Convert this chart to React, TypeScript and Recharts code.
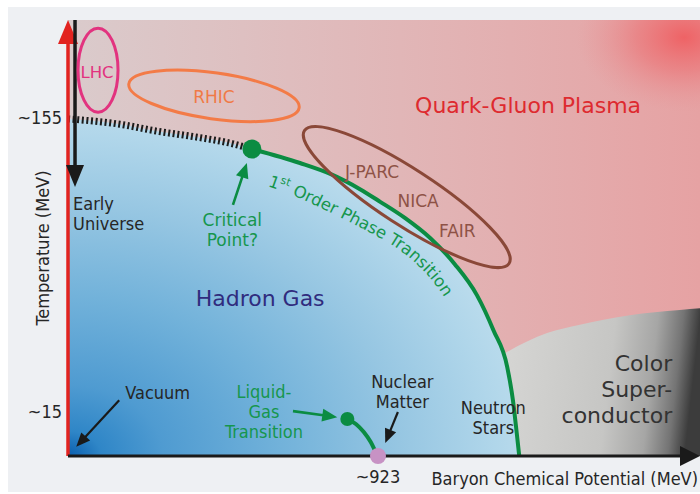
import React from 'react';
import { ComposedChart, Area, Line, Scatter, XAxis, YAxis, Label } from 'recharts';

// schematic phase diagram: u = baryon chemical potential, v = temperature (both 0..100)
const qgpRegion = [
  { u: 0, v: 100 },
  { u: 100, v: 100 },
];

const crossover = [
  { u: 0, v: 77.3 },
  { u: 1.9, v: 77.1 },
  { u: 8.2, v: 76.1 },
  { u: 14.1, v: 74.5 },
  { u: 20.1, v: 73.2 },
  { u: 26.1, v: 71.6 },
  { u: 29.1, v: 70.4 },
];

const firstOrder = [
  { u: 29.1, v: 70.4 },
  { u: 36.7, v: 67.2 },
  { u: 41.5, v: 64.7 },
  { u: 46.2, v: 61.2 },
  { u: 49.4, v: 58.3 },
  { u: 53.3, v: 54.6 },
  { u: 57.3, v: 50.0 },
  { u: 61.2, v: 44.0 },
  { u: 64.7, v: 36.9 },
  { u: 67.3, v: 28.9 },
  { u: 69.5, v: 20.4 },
  { u: 70.4, v: 12.8 },
  { u: 71.0, v: 5.3 },
  { u: 71.4, v: 0 },
];

const superconductor = [
  { u: 66.8, v: 21.6 },
  { u: 69.5, v: 23.9 },
  { u: 75.8, v: 28.2 },
  { u: 81.0, v: 30.1 },
  { u: 88.9, v: 32.3 },
  { u: 96.8, v: 33.5 },
  { u: 100, v: 33.9 },
];

const liquidGas = [
  { u: 44.2, v: 8.5 },
  { u: 45.6, v: 7.3 },
  { u: 46.8, v: 5.5 },
  { u: 47.9, v: 3.2 },
  { u: 48.7, v: 0.9 },
  { u: 49.05, v: 0 },
];

const hadronGas = [...crossover.slice(0, -1), ...firstOrder];

const criticalPoint = [{ u: 29.1, v: 70.4 }];
const liquidGasEnd = [{ u: 44.2, v: 8.5 }];
const nuclearMatter = [{ u: 49.05, v: 0 }];

// baseline for the curved "1st Order Phase Transition" text
const transitionGuide = [
  { u: 31.6, v: 61.9 },
  { u: 37.0, v: 58.9 },
  { u: 44.9, v: 53.4 },
  { u: 52.2, v: 47.5 },
  { u: 57.0, v: 41.3 },
  { u: 60.1, v: 35.1 },
  { u: 62.3, v: 28.9 },
];

const accelerators = [
  { name: 'LHC', u: 4.75, v: 88.5 },
  { name: 'RHIC', u: 23.1, v: 82.6 },
  { name: 'FAIR', u: 53.6, v: 59.4 },
];

const qgpLabel = [{ text: 'Quark-Gluon Plasma', u: 72.8, v: 80.5 }];
const hadronLabel = [{ text: 'Hadron Gas', u: 30.4, v: 36.2 }];
const superconductorLabel = [{ text: 'Color\nSuper-\nconductor', u: 95.6, v: 15.4 }];
const lhcLabel = [{ text: 'LHC', u: 4.6, v: 88.1 }];
const rhicLabel = [{ text: 'RHIC', u: 23.1, v: 82.3 }];
const fairLabels = [
  { text: 'J-PARC', u: 48.1, v: 65.1 },
  { text: 'NICA', u: 55.4, v: 58.5 },
  { text: 'FAIR', u: 61.6, v: 51.6 },
];
const blackNotes = [
  { text: 'Vacuum', u: 14.2, v: 14.5 },
  { text: 'Nuclear\nMatter', u: 52.9, v: 14.7 },
  { text: 'Neutron\nStars', u: 67.3, v: 8.9 },
];
const earlyUniverse = [{ text: 'Early\nUniverse', u: 0.8, v: 55.7 }];
const criticalLabel = [{ text: 'Critical\nPoint?', u: 26.0, v: 51.8 }];
const liquidGasLabel = [{ text: 'Liquid-\nGas\nTransition', u: 31.0, v: 10.1 }];

const tempAxis = [
  { u: 0, v: 0 },
  { u: 0, v: 100 },
];
const muAxis = [
  { u: 0, v: 0 },
  { u: 100, v: 0 },
];
const earlyArrow = [
  { u: 1.11, v: 100 },
  { u: 1.11, v: 61.7 },
];
const vacuumArrow = [
  { u: 8.1, v: 12.8 },
  { u: 1.3, v: 2.1 },
];
const criticalArrow = [
  { u: 26.1, v: 57.6 },
  { u: 28.3, v: 67.2 },
];
const liquidGasArrow = [
  { u: 35.6, v: 10.3 },
  { u: 42.6, v: 8.9 },
];
const nuclearArrow = [
  { u: 52.2, v: 10.1 },
  { u: 50.2, v: 3.0 },
];

const yTicks = [77.5, 10.1];
const yTickLabels = ['~155', '~15'];
const xTicks = [49.05];
const xTickLabels = ['~923'];

const GREEN = '#0b8c42';
const GREEN_TEXT = '#16964d';
const INK = '#262626';
const COND = "'DejaVu Sans Condensed', 'DejaVu Sans', sans-serif";

const ellipseStyle: Record<string, { rx: number; ry: number; rot: number; color: string }> = {
  LHC: { rx: 20, ry: 42, rot: 0, color: '#e2337f' },
  RHIC: { rx: 86, ry: 23, rot: 8, color: '#f37b47' },
  FAIR: { rx: 122, ry: 28, rot: 33, color: '#8a4838' },
};

const textShape =
  (size: number, color: string, opts: { anchor?: string; lh?: number; family?: string } = {}) =>
  (props: any) => {
    const { cx, cy, payload } = props;
    const lines: string[] = payload.text.split('\n');
    const lh = opts.lh ?? size * 1.2;
    const y0 = cy - ((lines.length - 1) * lh) / 2 + size * 0.36;
    return (
      <text textAnchor={opts.anchor ?? 'middle'} fontSize={size} fill={color} fontFamily={opts.family}>
        {lines.map((l, i) => (
          <tspan key={i} x={cx} y={y0 + i * lh}>
            {l}
          </tspan>
        ))}
      </text>
    );
  };

const ellipseShape = (props: any) => {
  const { cx, cy, payload } = props;
  const s = ellipseStyle[payload.name];
  return (
    <ellipse
      cx={cx}
      cy={cy}
      rx={s.rx}
      ry={s.ry}
      fill="none"
      stroke={s.color}
      strokeWidth={3}
      transform={`rotate(${s.rot} ${cx} ${cy})`}
    />
  );
};

const circleShape = (r: number, fill: string) => (props: any) =>
  <circle cx={props.cx} cy={props.cy} r={r} fill={fill} />;

const arrowDot =
  (color: string, width: number, headW: number, headL: number) =>
  (props: any) => {
    const { index, points } = props;
    if (!points || index !== points.length - 1) return <g key={`a-${index}`} />;
    const a = points[0];
    const b = points[points.length - 1];
    const dx = b.x - a.x;
    const dy = b.y - a.y;
    const len = Math.hypot(dx, dy) || 1;
    const ux = dx / len;
    const uy = dy / len;
    const bx = b.x - ux * headL;
    const by = b.y - uy * headL;
    const nx = -uy * (headW / 2);
    const ny = ux * (headW / 2);
    return (
      <g key={`a-${index}`}>
        <line x1={a.x} y1={a.y} x2={bx + ux} y2={by + uy} stroke={color} strokeWidth={width} />
        <polygon points={`${b.x},${b.y} ${bx + nx},${by + ny} ${bx - nx},${by - ny}`} fill={color} />
      </g>
    );
  };

const smoothPath = (pts: { x: number; y: number }[]) => {
  let d = `M${pts[0].x},${pts[0].y}`;
  for (let i = 0; i < pts.length - 1; i++) {
    const p0 = pts[i - 1] || pts[i];
    const p1 = pts[i];
    const p2 = pts[i + 1];
    const p3 = pts[i + 2] || p2;
    d += ` C${p1.x + (p2.x - p0.x) / 6},${p1.y + (p2.y - p0.y) / 6} ${p2.x - (p3.x - p1.x) / 6},${
      p2.y - (p3.y - p1.y) / 6
    } ${p2.x},${p2.y}`;
  }
  return d;
};

const transitionText = (props: any) => {
  const { index, points } = props;
  if (index !== 0 || !points) return <g key={`t-${index}`} />;
  return (
    <g key="transition-text">
      <path id="transitionPath" d={smoothPath(points)} fill="none" stroke="none" />
      <text fontSize={16.5} fill={GREEN_TEXT}>
        <textPath href="#transitionPath">
          1
          <tspan fontSize={11} dy={-7}>
            st
          </tspan>
          <tspan dy={7}> Order Phase Transition</tspan>
        </textPath>
      </text>
    </g>
  );
};

export default function App() {
  return (
    <div style={{ width: 700, height: 494, paddingTop: 7, paddingLeft: 8, boxSizing: 'border-box' }}>
      <style>{'body { margin: 0; }'}</style>
      <div
        style={{
          width: 692,
          height: 485,
          background: '#eef0f3',
          fontFamily: "'DejaVu Sans', Verdana, sans-serif",
        }}
      >
        <ComposedChart width={692} height={485} margin={{ top: 13, right: 0, bottom: 0, left: 0 }}>
          <defs>
            <linearGradient id="qgpFill" x1="0" y1="0" x2="1" y2="0">
              <stop offset="0" stopColor="#dacbcc" />
              <stop offset="0.35" stopColor="#dfbdbe" />
              <stop offset="0.7" stopColor="#e3afb0" />
              <stop offset="1" stopColor="#e6a2a3" />
            </linearGradient>
            <radialGradient id="qgpSpot" cx="0.975" cy="0.04" r="0.17">
              <stop offset="0" stopColor="#ef5f62" stopOpacity={0.95} />
              <stop offset="0.45" stopColor="#ec6e71" stopOpacity={0.55} />
              <stop offset="1" stopColor="#e89092" stopOpacity={0} />
            </radialGradient>
            <radialGradient id="hadronFill" cx="0" cy="1" r="1.05">
              <stop offset="0" stopColor="#0b5fae" />
              <stop offset="0.07" stopColor="#2f86c7" />
              <stop offset="0.2" stopColor="#4f9bd1" />
              <stop offset="0.45" stopColor="#72b2da" />
              <stop offset="0.7" stopColor="#96c6e2" />
              <stop offset="0.9" stopColor="#b0d6ea" />
              <stop offset="1" stopColor="#bddded" />
            </radialGradient>
            <linearGradient id="cscFill" x1="0" y1="0" x2="1" y2="0.08">
              <stop offset="0" stopColor="#d8d8d6" />
              <stop offset="0.6" stopColor="#c6c6c4" />
              <stop offset="0.8" stopColor="#a6a6a5" />
              <stop offset="0.92" stopColor="#747474" />
              <stop offset="1" stopColor="#3c3c3c" />
            </linearGradient>
          </defs>

          <XAxis
            type="number"
            dataKey="u"
            domain={[0, 100]}
            ticks={xTicks}
            interval={0}
            tickFormatter={(t: number) => xTickLabels[xTicks.indexOf(t)] ?? ''}
            axisLine={false}
            tickLine={false}
            tickSize={8}
            tickMargin={6}
            height={36}
            tick={{ fill: INK, fontSize: 18, fontFamily: COND }}
          >
            <Label
              content={({ viewBox }: any) => (
                <text
                  x={viewBox.x + viewBox.width - 2}
                  y={viewBox.y + 29}
                  textAnchor="end"
                  fontSize={18}
                  fontFamily={COND}
                  fill={INK}
                >
                  Baryon Chemical Potential (MeV)
                </text>
              )}
            />
          </XAxis>
          <YAxis
            type="number"
            dataKey="v"
            domain={[0, 100]}
            ticks={yTicks}
            interval={0}
            tickFormatter={(t: number) => yTickLabels[yTicks.indexOf(t)] ?? ''}
            axisLine={false}
            tickLine={false}
            tickSize={4}
            tickMargin={2}
            width={60}
            tick={{ fill: INK, fontSize: 18, fontFamily: COND }}
          >
            <Label
              content={({ viewBox }: any) => {
                const x = viewBox.x + 34;
                const y = viewBox.y + viewBox.height / 2 + 10;
                return (
                  <text
                    x={x}
                    y={y}
                    transform={`rotate(-90 ${x} ${y})`}
                    textAnchor="middle"
                    dominantBaseline="central"
                    fontSize={18}
                    fontFamily={COND}
                    fill={INK}
                  >
                    Temperature (MeV)
                  </text>
                );
              }}
            />
          </YAxis>

          <Area data={qgpRegion} dataKey="v" type="linear" stroke="none" fill="url(#qgpFill)" fillOpacity={1} isAnimationActive={false} activeDot={false} />
          <Area data={qgpRegion} dataKey="v" type="linear" stroke="none" fill="url(#qgpSpot)" fillOpacity={1} isAnimationActive={false} activeDot={false} />
          <Area data={superconductor} dataKey="v" type="monotone" stroke="none" fill="url(#cscFill)" fillOpacity={1} isAnimationActive={false} activeDot={false} />
          <Area data={hadronGas} dataKey="v" type="monotone" stroke="none" fill="url(#hadronFill)" fillOpacity={1} isAnimationActive={false} activeDot={false} />

          <Line data={crossover} dataKey="v" type="monotone" stroke="#1c1c1c" strokeWidth={7} strokeDasharray="2 2.6" dot={false} activeDot={false} isAnimationActive={false} />
          <Line data={firstOrder} dataKey="v" type="monotone" stroke={GREEN} strokeWidth={4} dot={false} activeDot={false} isAnimationActive={false} />
          <Line data={liquidGas} dataKey="v" type="monotone" stroke={GREEN} strokeWidth={4} dot={false} activeDot={false} isAnimationActive={false} />
          <Line data={transitionGuide} dataKey="v" type="linear" stroke="none" dot={transitionText} activeDot={false} isAnimationActive={false} />

          <Line data={tempAxis} dataKey="v" stroke="none" dot={arrowDot('#e2231f', 3.5, 20, 24)} activeDot={false} isAnimationActive={false} />
          <Line data={muAxis} dataKey="v" stroke="none" dot={arrowDot('#1a1a1a', 3, 20, 20)} activeDot={false} isAnimationActive={false} />
          <Line data={earlyArrow} dataKey="v" stroke="none" dot={arrowDot('#1a1a1a', 3.5, 18, 22)} activeDot={false} isAnimationActive={false} />
          <Line data={vacuumArrow} dataKey="v" stroke="none" dot={arrowDot('#1a1a1a', 2.2, 12, 14)} activeDot={false} isAnimationActive={false} />
          <Line data={nuclearArrow} dataKey="v" stroke="none" dot={arrowDot('#1a1a1a', 2.2, 12, 14)} activeDot={false} isAnimationActive={false} />
          <Line data={criticalArrow} dataKey="v" stroke="none" dot={arrowDot(GREEN, 2.6, 13, 15)} activeDot={false} isAnimationActive={false} />
          <Line data={liquidGasArrow} dataKey="v" stroke="none" dot={arrowDot(GREEN, 2.6, 13, 15)} activeDot={false} isAnimationActive={false} />

          <Scatter data={criticalPoint} dataKey="v" shape={circleShape(9.5, GREEN)} isAnimationActive={false} />
          <Scatter data={liquidGasEnd} dataKey="v" shape={circleShape(7, GREEN)} isAnimationActive={false} />
          <Scatter data={nuclearMatter} dataKey="v" shape={circleShape(8, '#c792c4')} isAnimationActive={false} />
          <Scatter data={accelerators} dataKey="v" shape={ellipseShape} isAnimationActive={false} />

          <Scatter data={qgpLabel} dataKey="v" shape={textShape(22, '#de2a2f')} isAnimationActive={false} />
          <Scatter data={hadronLabel} dataKey="v" shape={textShape(22, '#302c7e')} isAnimationActive={false} />
          <Scatter data={superconductorLabel} dataKey="v" shape={textShape(22, '#333333', { anchor: 'end', lh: 26 })} isAnimationActive={false} />
          <Scatter data={lhcLabel} dataKey="v" shape={textShape(16.5, '#e2337f')} isAnimationActive={false} />
          <Scatter data={rhicLabel} dataKey="v" shape={textShape(17, '#f07a46')} isAnimationActive={false} />
          <Scatter data={fairLabels} dataKey="v" shape={textShape(17, '#8e5246')} isAnimationActive={false} />
          <Scatter data={blackNotes} dataKey="v" shape={textShape(18, INK, { lh: 20, family: COND })} isAnimationActive={false} />
          <Scatter data={earlyUniverse} dataKey="v" shape={textShape(18, INK, { anchor: 'start', lh: 20, family: COND })} isAnimationActive={false} />
          <Scatter data={criticalLabel} dataKey="v" shape={textShape(17, GREEN_TEXT, { lh: 20 })} isAnimationActive={false} />
          <Scatter data={liquidGasLabel} dataKey="v" shape={textShape(18, GREEN_TEXT, { lh: 20, family: COND })} isAnimationActive={false} />
        </ComposedChart>
      </div>
    </div>
  );
}
